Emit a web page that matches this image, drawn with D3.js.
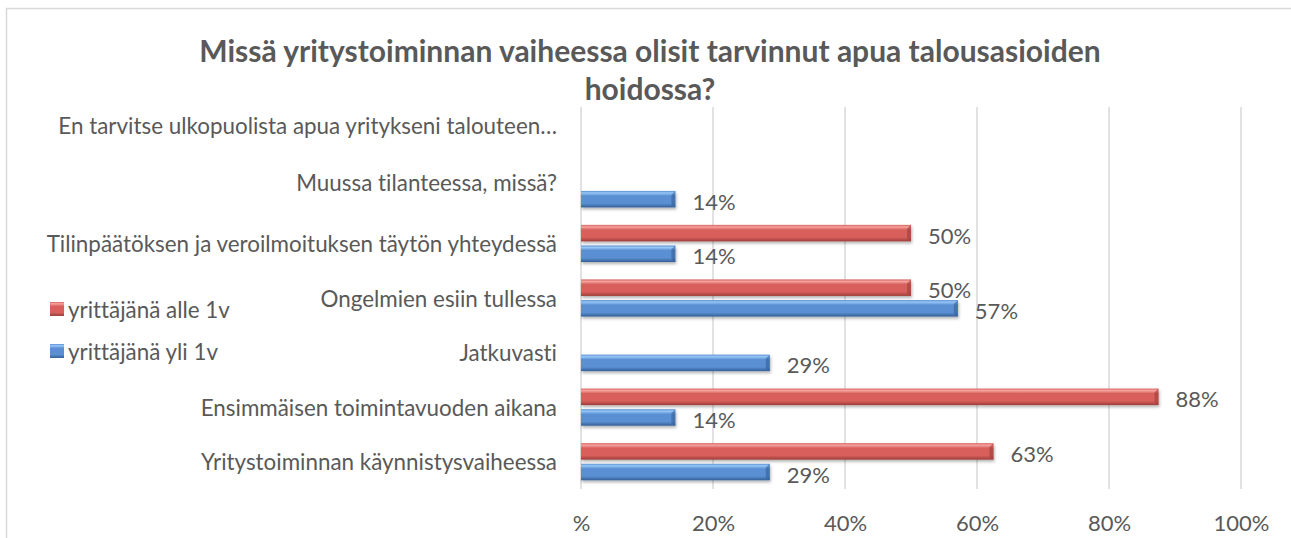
<!DOCTYPE html>
<html>
<head>
<meta charset="utf-8">
<script src="https://cdn.jsdelivr.net/npm/d3@7"></script>
<style>
  body { margin: 0; background: #fff; }
  text { font-family: Lato, 'Open Sans', sans-serif; fill: #595959; font-variant-ligatures: none; }
</style>
</head>
<body>
<div id="chart"></div>
<script>
const categories = [
  'En tarvitse ulkopuolista apua yritykseni talouteen…',
  'Muussa tilanteessa, missä?',
  'Tilinpäätöksen ja veroilmoituksen täytön yhteydessä',
  'Ongelmien esiin tullessa',
  'Jatkuvasti',
  'Ensimmäisen toimintavuoden aikana',
  'Yritystoiminnan käynnistysvaiheessa'
]
const seriesNames = ['yrittäjänä alle 1v', 'yrittäjänä yli 1v']
const alle1v = [null, null, 50, 50, null, 87.5, 62.5]
const yli1v = [null, 14.3, 14.3, 57.1, 28.6, 14.3, 28.6]
const xTicks = [0, 20, 40, 60, 80, 100]

const width = 1291
const height = 538
const margin = { top: 107, right: 50, bottom: 49, left: 581 }

const svg = d3
  .select('#chart')
  .append('svg')
  .attr('width', width)
  .attr('height', height)

// gradients for the bevelled bars
const defs = svg.append('defs')
const colors = {
  'yrittäjänä alle 1v': { light: '#f6a3a0', mid: '#d85f5b', dark: '#9e3c39' },
  'yrittäjänä yli 1v': { light: '#97c6f6', mid: '#5a90d3', dark: '#345f98' }
}
seriesNames.forEach((s, i) => {
  const g = defs.append('linearGradient')
    .attr('id', 'grad' + i)
    .attr('x1', 0).attr('y1', 0).attr('x2', 0).attr('y2', 1)
  g.append('stop').attr('offset', '0%').attr('stop-color', colors[s].mid)
  g.append('stop').attr('offset', '12%').attr('stop-color', colors[s].light)
  g.append('stop').attr('offset', '30%').attr('stop-color', colors[s].mid)
  g.append('stop').attr('offset', '75%').attr('stop-color', colors[s].mid)
  g.append('stop').attr('offset', '100%').attr('stop-color', colors[s].dark)
})
const shadow = defs.append('filter').attr('id', 'shadow')
  .attr('x', '-5%').attr('y', '-30%').attr('width', '115%').attr('height', '190%')
shadow.append('feDropShadow')
  .attr('dx', 1).attr('dy', 2).attr('stdDeviation', 1.5)
  .attr('flood-color', '#000').attr('flood-opacity', 0.3)

// chart border
svg.append('rect')
  .attr('x', 6.5).attr('y', 8.5)
  .attr('width', width).attr('height', height)
  .attr('fill', 'none')
  .attr('stroke', '#d9d9d9')
  .attr('stroke-width', 1.5)

const xPositionScale = d3.scaleLinear()
  .domain([0, 100])
  .range([margin.left, width - margin.right])

const yPositionScale = d3.scaleBand()
  .domain(categories)
  .range([margin.top, height - margin.bottom])

const bw = yPositionScale.bandwidth()
const ySeries = d3.scaleBand()
  .domain(seriesNames)
  .range([bw * 0.16, bw * 0.84])
  .paddingInner(0.2)

// gridlines
svg.append('g')
  .selectAll('line')
  .data(xTicks)
  .enter()
  .append('line')
  .attr('x1', d => xPositionScale(d))
  .attr('x2', d => xPositionScale(d))
  .attr('y1', margin.top)
  .attr('y2', height - margin.bottom)
  .attr('stroke', '#d9d9d9')
  .attr('stroke-width', 1.5)

// x axis labels
const xAxis = d3.axisBottom(xPositionScale)
  .tickValues(xTicks)
  .tickSize(0)
  .tickFormat(d => d === 0 ? '%' : d + '%')
const xg = svg.append('g')
  .attr('class', 'axis x-axis')
  .attr('transform', 'translate(0,' + (height - margin.bottom) + ')')
  .call(xAxis)
xg.select('.domain').remove()
xg.selectAll('text')
  .attr('dy', 0)
  .attr('y', 33)
  .attr('dominant-baseline', 'central')
  .style('font-size', '22px')
  .style('font-family', null)

// category labels (the two top ones sit a little higher, as in the original)
const labelShift = [-9, -6, 0, 0, 0, 0, 0]
svg.append('g')
  .selectAll('text')
  .data(categories)
  .enter()
  .append('text')
  .attr('x', margin.left - 24)
  .attr('y', (d, i) => yPositionScale(d) + bw / 2 + labelShift[i])
  .attr('text-anchor', 'end')
  .attr('dominant-baseline', 'central')
  .attr('font-size', 22.4)
  .text(d => d)

// bars
const series = [alle1v, yli1v]
series.forEach((values, i) => {
  const name = seriesNames[i]
  const rows = categories
    .map((c, j) => ({ category: c, value: values[j] }))
    .filter(d => d.value !== null)

  const g = svg.append('g')
  g.selectAll('rect')
    .data(rows)
    .enter()
    .append('rect')
    .attr('x', xPositionScale(0))
    .attr('y', d => yPositionScale(d.category) + ySeries(name))
    .attr('width', d => xPositionScale(d.value) - xPositionScale(0))
    .attr('height', ySeries.bandwidth())
    .attr('fill', 'url(#grad' + i + ')')
    .attr('filter', 'url(#shadow)')

  // bevelled right end
  g.selectAll('path')
    .data(rows)
    .enter()
    .append('path')
    .attr('d', d => {
      const x1 = xPositionScale(d.value)
      const y = yPositionScale(d.category) + ySeries(name)
      const h = ySeries.bandwidth()
      return 'M' + x1 + ',' + y + 'L' + (x1 - 4) + ',' + (y + 4) +
        'L' + (x1 - 4) + ',' + (y + h - 3) + 'L' + x1 + ',' + (y + h) + 'Z'
    })
    .attr('fill', colors[name].dark)
    .attr('opacity', 0.6)

  g.selectAll('text')
    .data(rows)
    .enter()
    .append('text')
    .attr('x', d => xPositionScale(d.value) + 17)
    .attr('y', d => yPositionScale(d.category) + ySeries(name) + ySeries.bandwidth() / 2 + 2)
    .attr('dominant-baseline', 'central')
    .attr('font-size', 22)
    .text(d => Math.round(d.value) + '%')
})

// legend
const legend = svg.append('g')
  .selectAll('g')
  .data(seriesNames)
  .enter()
  .append('g')
  .attr('transform', (d, i) => 'translate(50,' + (302 + i * 42) + ')')
legend.append('rect')
  .attr('width', 14)
  .attr('height', 14)
  .attr('fill', (d, i) => 'url(#grad' + i + ')')
legend.append('text')
  .attr('x', 18)
  .attr('y', 7)
  .attr('dominant-baseline', 'central')
  .attr('font-size', 22.4)
  .text(d => d)

// title
svg.append('text')
  .attr('x', 650)
  .attr('y', 50)
  .attr('text-anchor', 'middle')
  .attr('dominant-baseline', 'central')
  .attr('font-size', 30)
  .attr('font-weight', 'bold')
  .text('Missä yritystoiminnan vaiheessa olisit tarvinnut apua talousasioiden')
svg.append('text')
  .attr('x', 650)
  .attr('y', 88)
  .attr('text-anchor', 'middle')
  .attr('dominant-baseline', 'central')
  .attr('font-size', 30)
  .attr('font-weight', 'bold')
  .text('hoidossa?')
</script>
</body>
</html>
